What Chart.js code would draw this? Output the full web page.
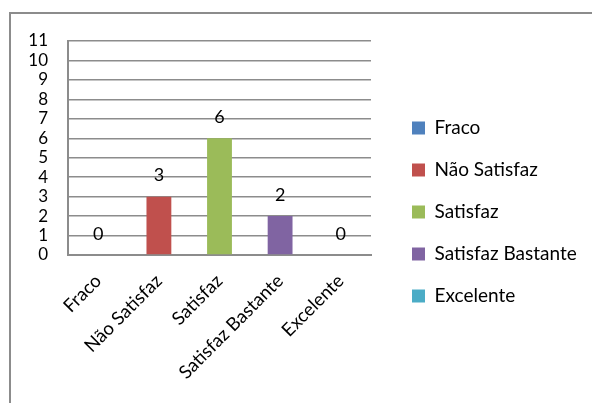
<!DOCTYPE html>
<html><head><meta charset="utf-8">
<script src="https://cdn.jsdelivr.net/npm/chart.js@4/dist/chart.umd.min.js"></script>
<style>
html,body{margin:0;padding:0;background:#fff;}
#wrap{position:relative;width:592px;height:403px;overflow:hidden;}
#frame{position:absolute;left:9px;top:12px;width:700px;height:500px;border:2px solid #8c8c8c;box-sizing:border-box;}
canvas{position:absolute;left:0;top:0;}
</style></head>
<body><div id="wrap"><div id="frame"></div><canvas id="c" width="592" height="403"></canvas></div>
<script>
const categories = ["Fraco", "Não Satisfaz", "Satisfaz", "Satisfaz Bastante", "Excelente"];
const values = [0, 3, 6, 2, 0];
const colors = ["#4F81BD", "#C0504D", "#9BBB59", "#8064A2", "#4BACC6"];
const yMin = 0, yMax = 11, yStep = 1;
const FONT = "Lato, 'Open Sans', sans-serif";

const valueLabels = {
  id: 'valueLabels',
  afterDatasetsDraw(chart) {
    const ctx = chart.ctx;
    const meta = chart.getDatasetMeta(0);
    ctx.save();
    ctx.font = "18px " + FONT;
    ctx.fillStyle = "#000";
    ctx.textAlign = "center";
    ctx.textBaseline = "middle";
    meta.data.forEach((bar, i) => {
      ctx.fillText(String(values[i]), bar.x, bar.y - 21);
    });
    ctx.restore();
  }
};

const fixLegend = {
  id: 'fixLegend',
  beforeLayout(chart) {
    const lg = chart.legend;
    if (lg && !lg._fixed) {
      const f = lg.fit.bind(lg);
      lg.fit = function () { f(); this.width = 203; };
      lg._fixed = true;
    }
  }
};

function draw() {
  new Chart(document.getElementById('c'), {
    type: 'bar',
    data: {
      labels: categories,
      datasets: [{
        data: values,
        backgroundColor: colors,
        borderWidth: 0,
        categoryPercentage: 1,
        barPercentage: 0.41
      }]
    },
    options: {
      responsive: false,
      animation: false,
      layout: { padding: { top: 41, left: 0, right: 0, bottom: 20 } },
      scales: {
        x: {
          grid: { display: false, drawTicks: false },
          border: { color: '#8c8c8c', width: 2 },
          ticks: { color: '#000', font: { family: FONT, size: 18.5 }, minRotation: 45, maxRotation: 45, padding: 15 },
          afterFit(scale) { scale.height = 128; }
        },
        y: {
          min: yMin, max: yMax,
          grid: { color: '#8c8c8c', lineWidth: 1.5, drawTicks: false },
          border: { color: '#8c8c8c', width: 2 },
          ticks: { stepSize: yStep, color: '#000', font: { family: FONT, size: 17 }, padding: 20, autoSkip: false },
          afterFit(scale) { scale.width = 68; }
        },
        gap: {
          position: 'right', min: 0, max: 1,
          grid: { display: false, drawTicks: false },
          border: { display: false },
          ticks: { display: false },
          afterFit(scale) { scale.width = 18; }
        }
      },
      plugins: {
        tooltip: { enabled: false },
        legend: {
          position: 'right',
          labels: {
            color: '#000',
            font: { family: FONT, size: 19 },
            boxWidth: 13, boxHeight: 13,
            padding: 23,
            generateLabels(chart) {
              return categories.map((c, i) => ({
                text: c, fillStyle: colors[i], strokeStyle: colors[i], lineWidth: 0, hidden: false, index: i
              }));
            }
          }
        }
      }
    },
    plugins: [valueLabels, fixLegend]
  });
}
(document.fonts && document.fonts.load ? document.fonts.load("18px Lato").catch(()=>{}) : Promise.resolve()).then(draw);
</script></body></html>
